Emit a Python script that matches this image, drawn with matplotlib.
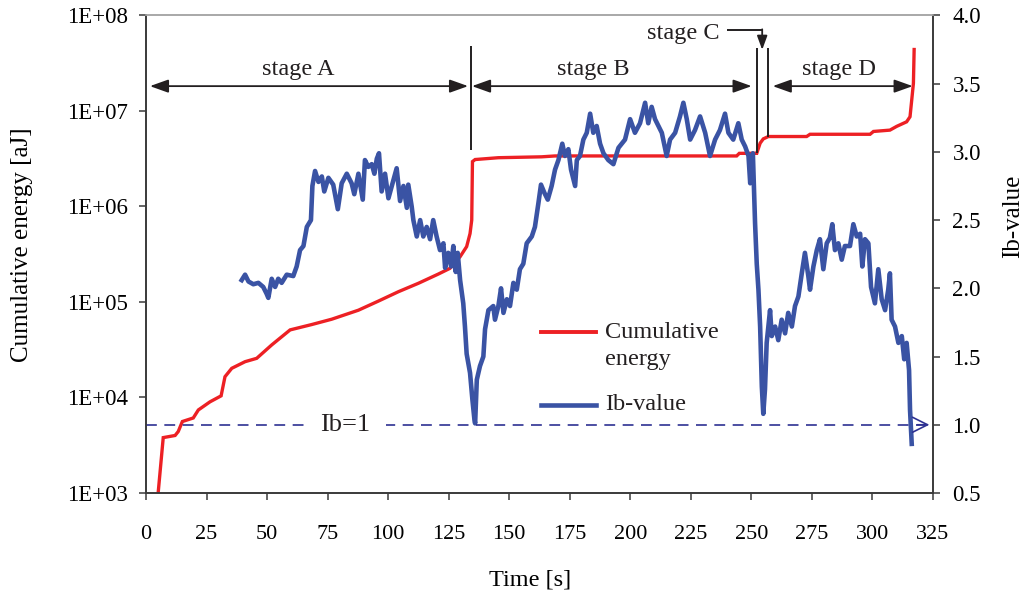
import math
import matplotlib
matplotlib.use("Agg")
import matplotlib.pyplot as plt
from matplotlib.ticker import FixedLocator, NullLocator, FuncFormatter

plt.rcParams['font.family'] = ['Liberation Serif', 'DejaVu Serif']

# ---- cumulative acoustic energy (time [s], energy [aJ]) ----
energy_time = [5.0, 7.1, 12.0, 13.3, 15.0, 19.5, 21.6, 26.4, 31.0, 32.6, 35.4, 40.9,
               45.7, 51.9, 59.5, 68.4, 76.7, 87.7, 95.9, 104.2, 112.5, 120.7, 125.5,
               129.7, 132.4, 133.8, 134.5, 134.8, 135.9, 145.5, 163.4, 168.9, 243.9,
               245.0, 252.2, 253.6, 254.9, 257.0, 272.8, 274.2, 299.0, 300.4, 307.2,
               310.0, 314.1, 315.5, 316.2, 316.9, 317.2]
energy_aj = [1.0e3, 3.8e3, 4.0e3, 4.4e3, 5.6e3, 6.1e3, 7.4e3, 9.0e3, 1.04e4, 1.65e4,
             2.02e4, 2.37e4, 2.57e4, 3.55e4, 5.1e4, 5.8e4, 6.6e4, 8.2e4, 1.02e5,
             1.28e5, 1.57e5, 1.96e5, 2.25e5, 2.98e5, 3.8e5, 5.2e5, 7.2e5, 2.95e6,
             3.1e6, 3.24e6, 3.31e6, 3.38e6, 3.38e6, 3.6e6, 3.6e6, 4.6e6, 5.1e6,
             5.4e6, 5.4e6, 5.7e6, 5.7e6, 6.1e6, 6.3e6, 6.9e6, 7.7e6, 8.7e6, 1.3e7,
             1.95e7, 4.4e7]

# ---- improved b-value (time [s], Ib) ----
ib_time = [39.5, 40.9, 42.3, 44.3, 46.4, 48.4, 49.8, 50.5, 51.9, 53.3, 54.6, 56.0,
           58.1, 60.8, 62.2, 63.6, 65.0, 66.4, 68.1, 68.7, 69.8, 71.2, 72.6, 73.6,
           75.3, 77.3, 79.2, 80.8, 82.9, 84.9, 86.0, 87.7, 89.5, 90.4, 91.8, 93.2,
           94.3, 95.3, 96.2, 97.3, 98.7, 100.1, 101.5, 103.5, 104.9, 106.3, 107.7,
           108.3, 109.7, 110.4, 111.8, 113.2, 114.5, 115.9, 117.3, 118.6, 120.0,
           121.4, 122.8, 123.5, 124.8, 126.0, 126.9, 127.9, 128.7, 129.7, 131.0,
           131.7, 132.4, 133.8, 134.8, 135.6, 135.9,
           136.6, 137.9, 139.3, 140.0, 141.4, 143.4, 144.1, 145.5, 146.6, 147.6,
           149.0, 150.3, 151.7, 153.1, 154.4, 155.8, 157.2, 159.3, 160.6, 162.0,
           163.1, 164.5, 165.9, 167.5, 168.9, 170.3, 171.9, 173.0, 174.4, 175.5,
           177.2, 177.9, 179.2, 180.6, 182.0, 183.4, 184.7, 186.1, 187.5, 188.9,
           190.9, 193.0, 195.1,
           197.8, 199.9, 201.9, 204.0, 206.1, 207.4, 208.8, 210.2, 211.6, 213.0,
           215.0, 216.4, 218.5, 220.5, 221.9, 223.3, 224.7, 226.7, 228.8, 230.9,
           232.9, 235.0, 237.0, 239.1, 240.5, 242.5, 244.6, 246.0, 247.4, 248.8,
           249.5, 250.6, 251.1, 251.5, 252.2, 252.9, 253.6, 254.3, 254.9, 255.6,
           256.3, 257.0, 257.7, 258.4, 259.8, 261.1, 262.5, 263.9, 265.2, 266.7,
           268.0, 269.4, 270.8, 272.1, 273.5, 274.2, 275.6, 277.0, 278.3, 279.7,
           281.1, 282.4, 283.4, 284.5, 285.9, 287.3, 288.6, 290.7, 292.1, 293.5,
           294.9, 295.8, 296.9, 298.3, 299.4, 301.0, 302.4, 303.8, 305.2, 306.5,
           307.2, 307.9, 309.3, 310.7, 312.1, 313.1, 314.1, 315.1, 315.5, 316.2]
ib_value = [2.06, 2.10, 2.05, 2.03, 2.04, 2.01, 1.96, 1.93, 2.07, 2.01, 2.07, 2.04,
            2.10, 2.09, 2.16, 2.28, 2.31, 2.45, 2.50, 2.75, 2.86, 2.78, 2.82, 2.71,
            2.81, 2.76, 2.58, 2.77, 2.84, 2.77, 2.69, 2.84, 2.65, 2.94, 2.89, 2.91,
            2.84, 2.95, 2.99, 2.71, 2.84, 2.66, 2.75, 2.88, 2.64, 2.75, 2.59,
            2.76, 2.60, 2.50, 2.38, 2.50, 2.38, 2.45, 2.36, 2.50, 2.38,
            2.28, 2.33, 2.15, 2.26, 2.16, 2.31, 2.12, 2.26, 2.06, 1.89,
            1.72, 1.52, 1.38, 1.18, 1.04, 1.01,
            1.33, 1.43, 1.50, 1.70, 1.84, 1.87, 1.77, 1.87, 2.00, 1.82,
            1.92, 1.87, 2.04, 1.99, 2.14, 2.18, 2.33, 2.38, 2.45, 2.62,
            2.76, 2.70, 2.65, 2.75, 2.87, 2.94, 3.06, 2.97, 3.02, 2.87,
            2.75, 2.94, 2.97, 3.09, 3.14, 3.28, 3.14, 3.19, 3.06, 2.99,
            2.94, 2.91, 3.03,
            3.09, 3.24, 3.14, 3.21, 3.36, 3.21, 3.33, 3.24, 3.19, 3.14,
            2.97, 3.09, 3.14, 3.26, 3.36, 3.24, 3.09, 3.16, 3.26, 3.14,
            2.97, 3.09, 3.16, 3.28, 3.14, 3.09, 3.21, 3.09, 3.04, 2.97,
            2.77, 2.99, 2.72, 2.48, 2.18, 1.99, 1.72, 1.28, 1.08, 1.26,
            1.60, 1.72, 1.84, 1.65, 1.72, 1.62, 1.77, 1.67, 1.82, 1.72,
            1.87, 1.94, 2.11, 2.26, 2.09, 1.99, 2.16, 2.28, 2.36, 2.14,
            2.33, 2.37, 2.47, 2.28, 2.33, 2.21, 2.31, 2.31, 2.47, 2.38,
            2.40, 2.16, 2.36, 2.33, 2.01, 1.89, 2.14, 1.92, 1.84, 1.99,
            2.11, 1.77, 1.72, 1.60, 1.65, 1.48, 1.60, 1.40, 1.11, 0.86]

# ---- axis ticks ----
time_ticks = list(range(0, 326, 25))
energy_ticks = [1e3, 1e4, 1e5, 1e6, 1e7, 1e8]
ib_ticks = [0.5, 1.0, 1.5, 2.0, 2.5, 3.0, 3.5, 4.0]

# ---- stage annotations ----
stage_bounds = [134.1, 252.2, 256.7]
stage_names = ['stage A', 'stage B', 'stage C', 'stage D']
stage_label_x = [62.8, 184.6, 221.8, 286.2]
stage_arrow_spans = [(1.6, 133.0), (134.6, 250.1), (258.8, 316.6)]
ib_reference = 1.0

RED = '#ED2024'
BLUE = '#3A53A4'
NAVY = '#2E3192'
INK = '#231F20'
AXIS = '#3a3a3a'

fig = plt.figure(figsize=(10.27, 5.99), dpi=100)
ax = fig.add_axes([0.1422, 0.1770, 0.7663, 0.7972])
ax2 = ax.twinx()

ax.plot(energy_time, energy_aj, color=RED, lw=2.4, solid_joinstyle='miter')
ax.set_yscale('log')
ax.set_ylim(1e3, 1e8)
ax.set_xlim(0, 325)
ax.xaxis.set_major_locator(FixedLocator(time_ticks))
ax.yaxis.set_major_locator(FixedLocator(energy_ticks))
ax.yaxis.set_minor_locator(NullLocator())
ax.yaxis.set_major_formatter(FuncFormatter(lambda v, p: '1E+%02d' % round(math.log10(v))))

ax2.plot(ib_time, ib_value, color=BLUE, lw=3.3, solid_joinstyle='round')
ax2.set_ylim(0.5, 4.0)
ax2.yaxis.set_major_locator(FixedLocator(ib_ticks))
ax2.yaxis.set_major_formatter(FuncFormatter(lambda v, p: '%.1f' % v))

# Ib = 1 reference line with open arrow head
ax2.hlines(ib_reference, 0, 322.0, colors=NAVY, lw=1.2, linestyles=(0, (6.5, 4.5)))
ax2.annotate('', xy=(323.5, ib_reference), xytext=(318.5, ib_reference),
             arrowprops=dict(arrowstyle='->,head_length=0.6,head_width=0.3',
                             color=NAVY, lw=1.2, mutation_scale=18,
                             shrinkA=0, shrinkB=0))
ax2.text(82.2, ib_reference, 'Ib=1', fontsize=19, ha='center', va='center',
         color=INK, bbox=dict(boxstyle='square,pad=0.6', fc='white', ec='none'))

# spines and ticks
for a in (ax, ax2):
    for side in ['left', 'right', 'bottom']:
        a.spines[side].set_color(AXIS)
        a.spines[side].set_linewidth(1.2)
    a.spines['top'].set_color('#a8a8a8')
    a.spines['top'].set_linewidth(1.2)

ax.tick_params(axis='x', direction='out', length=5, width=1.1, pad=18, labelsize=16,
               color=AXIS)
ax.tick_params(axis='y', direction='out', length=5, width=1.1, pad=8, labelsize=16.5,
               color=AXIS)
ax2.tick_params(axis='y', direction='out', length=5, width=1.1, pad=9, labelsize=16.5,
                color=AXIS)

# axis titles placed in figure coordinates
fig.text(530 / 1027, 1 - 580 / 599, 'Time [s]', fontsize=17.5, ha='center', va='center')
fig.text(22 / 1027, 1 - 245 / 599, 'Cumulative energy [aJ]', fontsize=18,
         rotation=90, ha='center', va='center')
fig.text(1013 / 1027, 1 - 216 / 599, 'Ib-value', fontsize=18,
         rotation=90, ha='center', va='center')

# stage boundaries, spans and labels
xt = ax2.get_xaxis_transform()
ax2.vlines(stage_bounds[0], 0.718, 0.936, transform=xt, colors=INK, lw=1.4)
ax2.vlines(stage_bounds[1], 0.712, 0.931, transform=xt, colors=INK, lw=1.4)
ax2.vlines(stage_bounds[2], 0.746, 0.931, transform=xt, colors=INK, lw=1.4)
for x0, x1 in stage_arrow_spans:
    ax2.annotate('', xy=(x1, 0.852), xytext=(x0, 0.852), xycoords=xt, textcoords=xt,
                 arrowprops=dict(arrowstyle='<|-|>,head_length=0.7,head_width=0.25',
                                 color=INK, lw=1.3, mutation_scale=16,
                                 shrinkA=0, shrinkB=0))
for name, lx in zip(stage_names, stage_label_x):
    ly = 0.963 if name == 'stage C' else 0.886
    ax2.text(lx, ly, name, transform=xt, fontsize=17.5, ha='center', va='center',
             color=INK)

c_mid = (stage_bounds[1] + stage_bounds[2]) / 2
ax2.plot([239.9, c_mid], [0.970, 0.970], transform=xt, color=INK, lw=1.4,
         solid_capstyle='butt')
ax2.annotate('', xy=(c_mid, 0.928), xytext=(c_mid, 0.971), xycoords=xt, textcoords=xt,
             arrowprops=dict(arrowstyle='-|>,head_length=0.6,head_width=0.22',
                             color=INK, lw=1.3, mutation_scale=14,
                             shrinkA=0, shrinkB=0))

# legend drawn in axes coordinates so the red key sits on the first text line
at = ax2.transAxes
ax2.plot([0.502, 0.572], [0.337, 0.337], transform=at, color=RED, lw=2.8)
ax2.plot([0.502, 0.572], [0.184, 0.184], transform=at, color=BLUE, lw=3.3)
ax2.text(0.583, 0.337, 'Cumulative', transform=at, fontsize=17.5, va='center', color=INK)
ax2.text(0.583, 0.279, 'energy', transform=at, fontsize=17.5, va='center', color=INK)
ax2.text(0.583, 0.186, 'Ib-value', transform=at, fontsize=17.5, va='center', color=INK)

fig.savefig('out.png', dpi=100)
